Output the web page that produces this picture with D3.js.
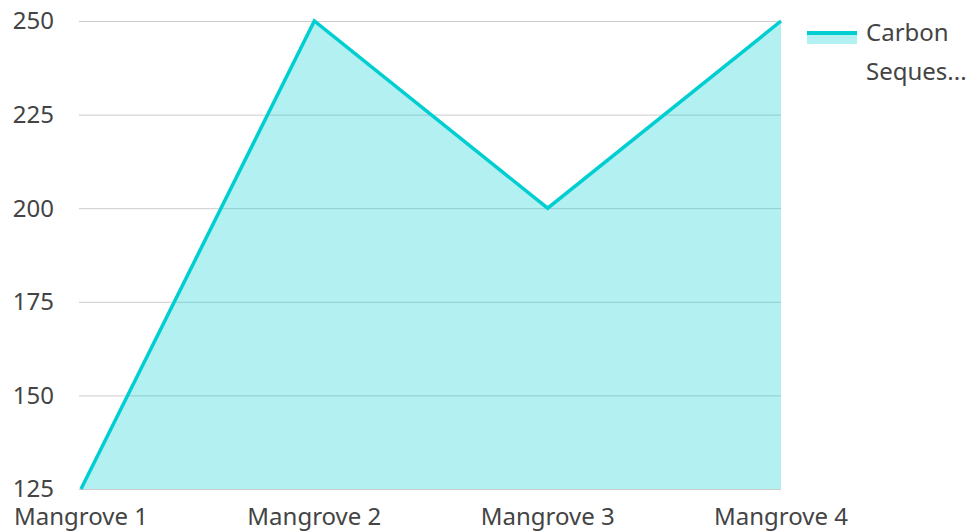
<!DOCTYPE html>
<html>
<head>
<meta charset="utf-8">
<script src="https://cdn.jsdelivr.net/npm/d3@7"></script>
<style>
  body { margin: 0; background: #fff; }
  svg text { font-family: "Noto Sans", "Open Sans", sans-serif; fill: #444; }
</style>
</head>
<body>
<div class="chart"></div>
<script>
const categories = ['Mangrove 1', 'Mangrove 2', 'Mangrove 3', 'Mangrove 4'];
const values = [125, 250, 200, 250];
const yTicks = [125, 150, 175, 200, 225, 250];
const seriesName = ['Carbon', 'Seques...'];

const width = 972;
const height = 531;
const color = '#00ced1';

const svg = d3.select('.chart')
  .append('svg')
  .attr('width', width)
  .attr('height', height);

const x = d3.scalePoint()
  .domain(categories)
  .range([81, 781]);

const y = d3.scaleLinear()
  .domain([125, 250])
  .range([489, 21]);

// gridlines
svg.append('g')
  .selectAll('line')
  .data(yTicks)
  .join('line')
  .attr('x1', 79)
  .attr('x2', 781)
  .attr('y1', d => y(d) + 0.5)
  .attr('y2', d => y(d) + 0.5)
  .attr('stroke', '#cccccc')
  .attr('stroke-width', 1);

// y labels
svg.append('g')
  .selectAll('text')
  .data(yTicks)
  .join('text')
  .attr('x', 54)
  .attr('y', d => y(d))
  .attr('dy', '0.35em')
  .attr('text-anchor', 'end')
  .attr('font-size', 24)
  .text(d => d);

// x labels
svg.append('g')
  .selectAll('text')
  .data(categories)
  .join('text')
  .attr('x', d => x(d))
  .attr('y', 525)
  .attr('text-anchor', 'middle')
  .attr('font-size', 24)
  .text(d => d);

const data = categories.map((c, i) => ({ c, v: values[i] }));

const area = d3.area()
  .x(d => x(d.c))
  .y0(y(125))
  .y1(d => y(d.v));

const line = d3.line()
  .x(d => x(d.c))
  .y(d => y(d.v));

svg.append('path')
  .datum(data)
  .attr('d', area)
  .attr('fill', color)
  .attr('fill-opacity', 0.3);

svg.append('path')
  .datum(data)
  .attr('d', line)
  .attr('fill', 'none')
  .attr('stroke', color)
  .attr('stroke-width', 3.5)
  .attr('stroke-linejoin', 'miter');

// legend
const lg = svg.append('g').attr('transform', 'translate(807,31)');
lg.append('rect')
  .attr('x', 0).attr('y', 2)
  .attr('width', 50).attr('height', 11)
  .attr('fill', color).attr('fill-opacity', 0.3);
lg.append('line')
  .attr('x1', 0).attr('x2', 50)
  .attr('y1', 2).attr('y2', 2)
  .attr('stroke', color).attr('stroke-width', 4);
lg.selectAll('text')
  .data(seriesName)
  .join('text')
  .attr('x', 59)
  .attr('y', (d, i) => 2 + i * 39)
  .attr('dy', '0.35em')
  .attr('font-size', 24)
  .text(d => d);
</script>
</body>
</html>
